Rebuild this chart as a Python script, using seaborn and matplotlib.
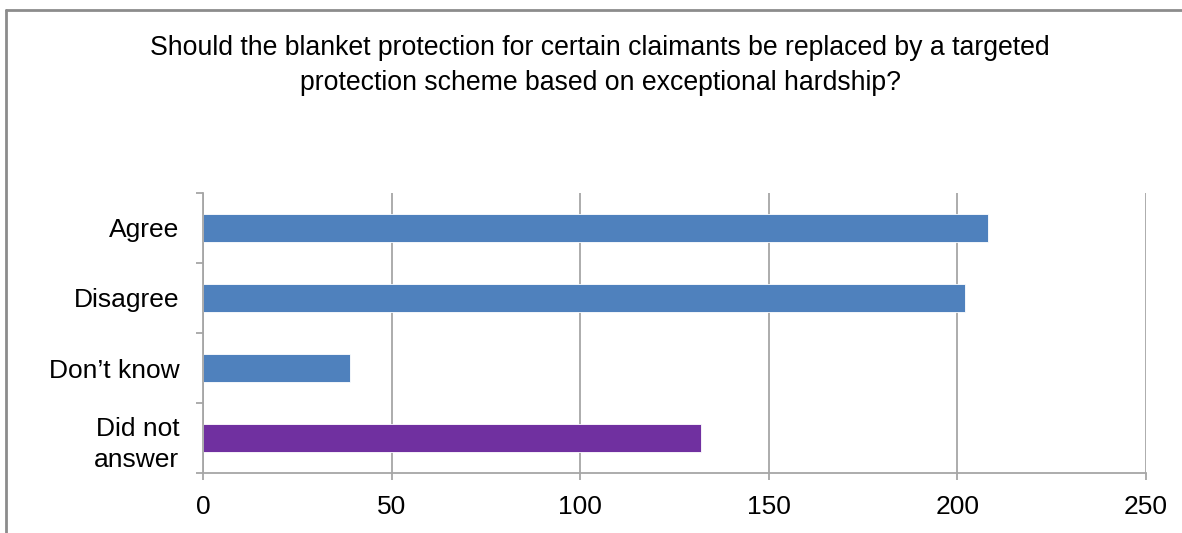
import matplotlib
matplotlib.use("Agg")
import matplotlib.pyplot as plt
from matplotlib.lines import Line2D
import seaborn as sns
import pandas as pd
import numpy as np

categories = ["Agree", "Disagree", "Don\u2019t know", "Did not\nanswer"]
responses = [208, 202, 39, 132]
bar_colors = ["#4F81BD", "#4F81BD", "#4F81BD", "#7030A0"]
x_ticks = [0, 50, 100, 150, 200, 250]
title = ("Should the blanket protection for certain claimants be replaced by a targeted\n"
         "protection scheme based on exceptional hardship?")

sns.set_theme(style="white")
plt.rcParams["font.family"] = ["Liberation Sans", "DejaVu Sans"]

df = pd.DataFrame({"category": categories, "count": responses})

fig = plt.figure(figsize=(11.82, 5.33), dpi=100)
ax = fig.add_axes([203 / 1182, 1 - 473 / 533, (1146 - 203) / 1182, (473 - 193) / 533])

sns.barplot(data=df, y="category", x="count", hue="category",
            palette=dict(zip(categories, bar_colors)), order=categories,
            width=0.4, orient="h", legend=False, ax=ax, saturation=1)

grid_color = "#A6A6A6"
ax.set_xlim(0, 250)
ax.set_ylim(len(categories) - 0.5, -0.5)
ax.set_xticks(x_ticks)
ax.set_xticklabels([str(t) for t in x_ticks])
ax.set_axisbelow(True)
ax.xaxis.grid(True, color=grid_color, linewidth=1.3)
ax.yaxis.grid(False)

ax.set_xlabel("")
ax.set_ylabel("")

for side in ["top", "right"]:
    ax.spines[side].set_visible(False)
for side in ["left", "bottom"]:
    ax.spines[side].set_color(grid_color)
    ax.spines[side].set_linewidth(1.3)

# category boundary ticks on the y axis, labels at the bar centres
ax.set_yticks(np.arange(-0.5, len(categories), 1.0), minor=True)
ax.tick_params(axis="y", which="minor", length=5, width=1.3, color=grid_color, direction="out", left=True)
ax.tick_params(axis="y", which="major", length=0, pad=17, labelsize=19, labelcolor="black")
for lbl in ax.get_yticklabels():
    lbl.set_multialignment("right")
    lbl.set_linespacing(1.4)
ax.tick_params(axis="x", which="major", length=5, width=1.3, color=grid_color, direction="out",
               bottom=True, pad=11, labelsize=19, labelcolor="black")

for p in ax.patches:
    p.set_edgecolor("white")
    p.set_linewidth(0.6)

fig.text(600 / 1182, 1 - 65.5 / 533, title, ha="center", va="center", fontsize=19.2,
         linespacing=1.45, color="black")

# outer chart frame
frame_color = "#8C8C8C"
fig.add_artist(Line2D([6 / 1182, 6 / 1182], [0, 1 - 10 / 533], transform=fig.transFigure,
                      color=frame_color, linewidth=2))
fig.add_artist(Line2D([6 / 1182, 1], [1 - 10 / 533, 1 - 10 / 533], transform=fig.transFigure,
                      color=frame_color, linewidth=2))

fig.savefig("out.png", dpi=100, facecolor="white")
